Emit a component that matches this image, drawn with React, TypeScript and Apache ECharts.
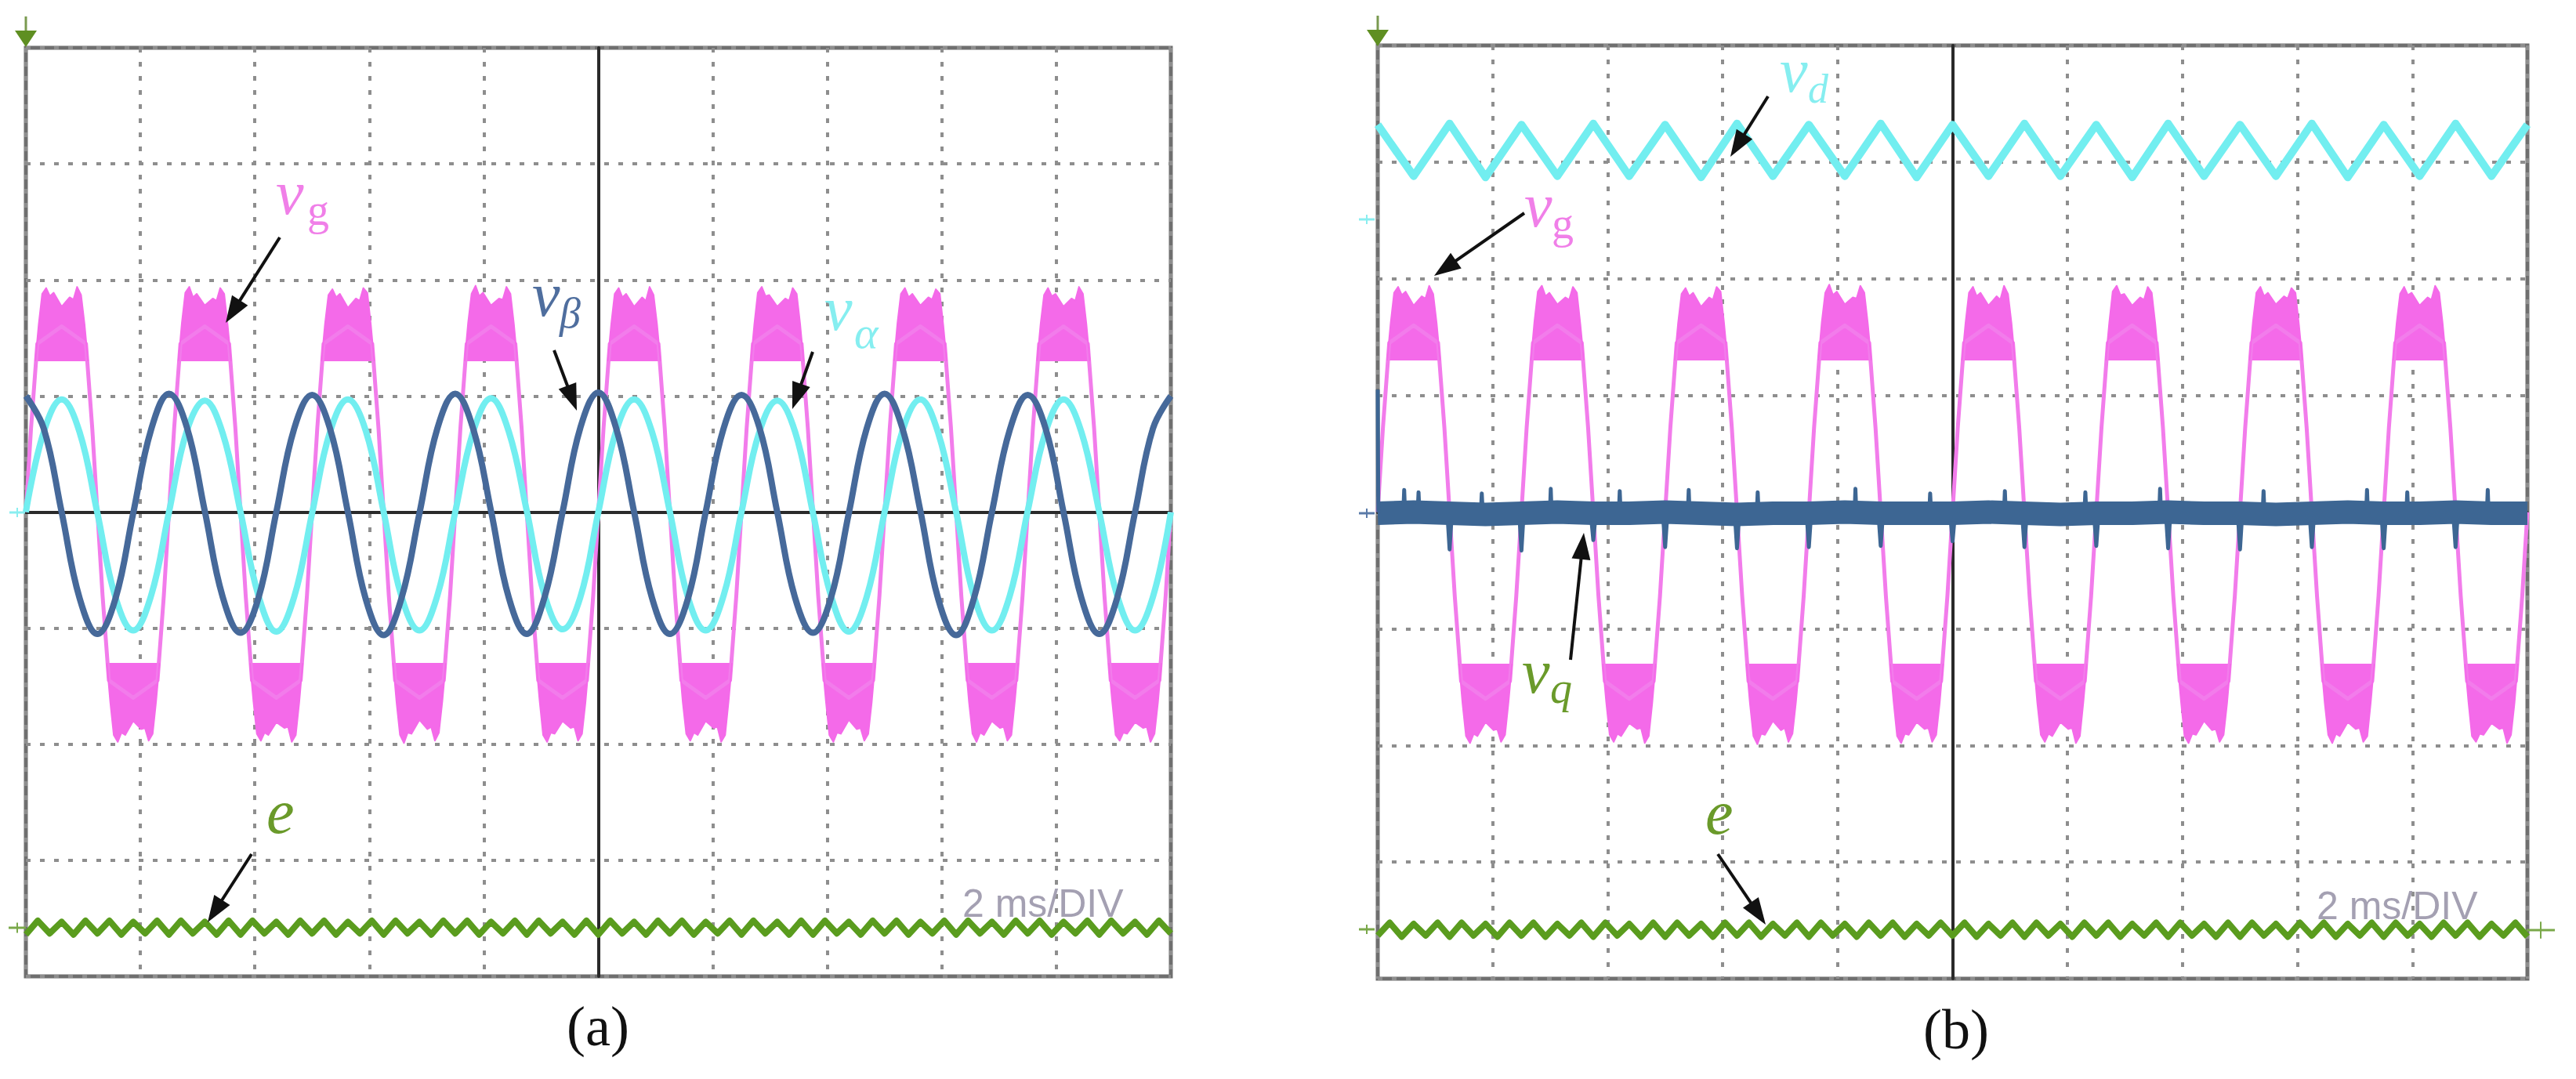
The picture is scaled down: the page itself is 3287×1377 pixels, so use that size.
import React, { useEffect, useRef } from "react";
import * as echarts from "echarts";

// ---- axes (time in ms, screen centre = 0; vertical in divisions) ----
const T_MIN = -10;
const T_MAX = 10;
const T_INTERVAL = 2; // 2 ms/DIV
const V_MIN = -4;
const V_MAX = 4;
const V_INTERVAL = 1;

// ---- panel (a) ----
const SINE_STEP = 0.3125; // ms between samples of the alpha/beta traces
const V_BETA = [
  1.0, 0.72, 0.0, -0.74, -1.05, -0.75, -0.01, 0.71,
  1.02, 0.73, 0.01, -0.73, -1.04, -0.74, 0.0, 0.72,
  1.01, 0.72, 0.0, -0.75, -1.06, -0.74, -0.01, 0.72,
  1.02, 0.72, 0.01, -0.74, -1.05, -0.73, 0.0, 0.73,
  1.03, 0.72, 0.0, -0.74, -1.05, -0.75, 0.0, 0.72,
  1.01, 0.73, 0.0, -0.74, -1.04, -0.74, -0.01, 0.72,
  1.02, 0.72, 0.01, -0.75, -1.06, -0.74, 0.0, 0.71,
  1.01, 0.72, 0.0, -0.74, -1.05, -0.74, 0.0, 0.72,
  1.0,
];
const V_ALPHA = [
  0.0, 0.69, 0.97, 0.69, -0.01, -0.73, -1.02, -0.72,
  0.0, 0.7, 0.96, 0.68, 0.0, -0.72, -1.03, -0.73,
  -0.01, 0.69, 0.97, 0.7, 0.0, -0.73, -1.02, -0.72,
  0.0, 0.69, 0.98, 0.69, 0.01, -0.72, -1.01, -0.73,
  0.0, 0.7, 0.97, 0.69, 0.0, -0.73, -1.02, -0.72,
  0.0, 0.69, 0.96, 0.69, -0.01, -0.72, -1.03, -0.73,
  0.0, 0.7, 0.97, 0.68, 0.0, -0.73, -1.02, -0.72,
  0.01, 0.69, 0.97, 0.69, 0.0, -0.72, -1.02, -0.73,
  0.0,
];

// grid voltage v_g: thin trace (ms, div)
const VG_TRACE: [number, number][] = [
  [-10, 0], [-9.91, 0.72], [-9.8, 1.45], [-9.375, 1.6], [-8.95, 1.45], [-8.84, 0.72],
  [-8.75, 0], [-8.66, -0.72], [-8.55, -1.45], [-8.125, -1.6], [-7.7, -1.45], [-7.59, -0.72],
  [-7.5, 0], [-7.41, 0.72], [-7.3, 1.45], [-6.875, 1.6], [-6.45, 1.45], [-6.34, 0.72],
  [-6.25, 0], [-6.16, -0.72], [-6.05, -1.45], [-5.625, -1.6], [-5.2, -1.45], [-5.09, -0.72],
  [-5, 0], [-4.91, 0.72], [-4.8, 1.45], [-4.375, 1.6], [-3.95, 1.45], [-3.84, 0.72],
  [-3.75, 0], [-3.66, -0.72], [-3.55, -1.45], [-3.125, -1.6], [-2.7, -1.45], [-2.59, -0.72],
  [-2.5, 0], [-2.41, 0.72], [-2.3, 1.45], [-1.875, 1.6], [-1.45, 1.45], [-1.34, 0.72],
  [-1.25, 0], [-1.16, -0.72], [-1.05, -1.45], [-0.625, -1.6], [-0.2, -1.45], [-0.09, -0.72],
  [0, 0], [0.09, 0.72], [0.2, 1.45], [0.625, 1.6], [1.05, 1.45], [1.16, 0.72],
  [1.25, 0], [1.34, -0.72], [1.45, -1.45], [1.875, -1.6], [2.3, -1.45], [2.41, -0.72],
  [2.5, 0], [2.59, 0.72], [2.7, 1.45], [3.125, 1.6], [3.55, 1.45], [3.66, 0.72],
  [3.75, 0], [3.84, -0.72], [3.95, -1.45], [4.375, -1.6], [4.8, -1.45], [4.91, -0.72],
  [5, 0], [5.09, 0.72], [5.2, 1.45], [5.625, 1.6], [6.05, 1.45], [6.16, 0.72],
  [6.25, 0], [6.34, -0.72], [6.45, -1.45], [6.875, -1.6], [7.3, -1.45], [7.41, -0.72],
  [7.5, 0], [7.59, 0.72], [7.7, 1.45], [8.125, 1.6], [8.55, 1.45], [8.66, 0.72],
  [8.75, 0], [8.84, -0.72], [8.95, -1.45], [9.375, -1.6], [9.8, -1.45], [9.91, -0.72],
  [10, 0],
];

// noisy plateaus of v_g (outer edge), filled towards PLATEAU_BASE
const PLATEAU_BASE = 1.3;
const VG_TOPS: [number, number | null][] = [
  [-9.835, 1.3], [-9.775, 1.62], [-9.715, 1.88], [-9.645, 1.93], [-9.58, 1.86], [-9.515, 1.89], [-9.375, 1.77], [-9.235, 1.85], [-9.17, 1.83], [-9.105, 1.94], [-9.035, 1.87], [-8.975, 1.62], [-8.915, 1.3], [-8.9, null],
  [-7.335, 1.3], [-7.275, 1.63], [-7.215, 1.89], [-7.145, 1.94], [-7.08, 1.85], [-7.015, 1.88], [-6.875, 1.78], [-6.735, 1.84], [-6.67, 1.82], [-6.605, 1.93], [-6.535, 1.88], [-6.475, 1.61], [-6.415, 1.3], [-6.4, null],
  [-4.835, 1.3], [-4.775, 1.62], [-4.715, 1.87], [-4.645, 1.92], [-4.58, 1.85], [-4.515, 1.88], [-4.375, 1.76], [-4.235, 1.84], [-4.17, 1.82], [-4.105, 1.93], [-4.035, 1.89], [-3.975, 1.62], [-3.915, 1.3], [-3.9, null],
  [-2.335, 1.3], [-2.275, 1.63], [-2.215, 1.88], [-2.145, 1.95], [-2.08, 1.86], [-2.015, 1.89], [-1.875, 1.78], [-1.735, 1.84], [-1.67, 1.83], [-1.605, 1.94], [-1.535, 1.88], [-1.475, 1.62], [-1.415, 1.3], [-1.4, null],
  [0.165, 1.3], [0.225, 1.62], [0.285, 1.88], [0.355, 1.93], [0.42, 1.85], [0.485, 1.88], [0.625, 1.77], [0.765, 1.85], [0.83, 1.82], [0.895, 1.94], [0.965, 1.87], [1.025, 1.62], [1.085, 1.3], [1.1, null],
  [2.665, 1.3], [2.725, 1.62], [2.785, 1.89], [2.855, 1.94], [2.92, 1.86], [2.985, 1.87], [3.125, 1.77], [3.265, 1.84], [3.33, 1.82], [3.395, 1.93], [3.465, 1.88], [3.525, 1.62], [3.585, 1.3], [3.6, null],
  [5.165, 1.3], [5.225, 1.63], [5.285, 1.88], [5.355, 1.93], [5.42, 1.85], [5.485, 1.88], [5.625, 1.78], [5.765, 1.85], [5.83, 1.83], [5.895, 1.92], [5.965, 1.88], [6.025, 1.61], [6.085, 1.3], [6.1, null],
  [7.665, 1.3], [7.725, 1.62], [7.785, 1.87], [7.855, 1.93], [7.92, 1.86], [7.985, 1.88], [8.125, 1.77], [8.265, 1.84], [8.33, 1.82], [8.395, 1.94], [8.465, 1.88], [8.525, 1.62], [8.585, 1.3],
];
const VG_BOTTOMS: [number, number | null][] = [
  [-8.585, -1.3], [-8.525, -1.64], [-8.465, -1.92], [-8.395, -1.98], [-8.33, -1.9], [-8.265, -1.92], [-8.125, -1.8], [-7.985, -1.87], [-7.92, -1.86], [-7.855, -1.97], [-7.785, -1.91], [-7.725, -1.63], [-7.665, -1.3], [-7.65, null],
  [-6.085, -1.3], [-6.025, -1.63], [-5.965, -1.91], [-5.895, -1.97], [-5.83, -1.9], [-5.765, -1.92], [-5.625, -1.81], [-5.485, -1.86], [-5.42, -1.85], [-5.355, -1.98], [-5.285, -1.92], [-5.225, -1.64], [-5.165, -1.3], [-5.15, null],
  [-3.585, -1.3], [-3.525, -1.64], [-3.465, -1.92], [-3.395, -1.99], [-3.33, -1.9], [-3.265, -1.91], [-3.125, -1.79], [-2.985, -1.87], [-2.92, -1.85], [-2.855, -1.97], [-2.785, -1.9], [-2.725, -1.63], [-2.665, -1.3], [-2.65, null],
  [-1.085, -1.3], [-1.025, -1.63], [-0.965, -1.92], [-0.895, -1.98], [-0.83, -1.9], [-0.765, -1.91], [-0.625, -1.8], [-0.485, -1.86], [-0.42, -1.85], [-0.355, -1.97], [-0.285, -1.91], [-0.225, -1.64], [-0.165, -1.3], [-0.15, null],
  [1.415, -1.3], [1.475, -1.64], [1.535, -1.91], [1.605, -1.97], [1.67, -1.9], [1.735, -1.92], [1.875, -1.8], [2.015, -1.86], [2.08, -1.85], [2.145, -1.98], [2.215, -1.92], [2.275, -1.63], [2.335, -1.3], [2.35, null],
  [3.915, -1.3], [3.975, -1.63], [4.035, -1.92], [4.105, -1.98], [4.17, -1.9], [4.235, -1.91], [4.375, -1.79], [4.515, -1.87], [4.58, -1.86], [4.645, -1.97], [4.715, -1.91], [4.775, -1.64], [4.835, -1.3], [4.85, null],
  [6.415, -1.3], [6.475, -1.64], [6.535, -1.91], [6.605, -1.98], [6.67, -1.9], [6.735, -1.92], [6.875, -1.8], [7.015, -1.86], [7.08, -1.85], [7.145, -1.97], [7.215, -1.92], [7.275, -1.63], [7.335, -1.3], [7.35, null],
  [8.915, -1.3], [8.975, -1.63], [9.035, -1.92], [9.105, -1.97], [9.17, -1.9], [9.235, -1.91], [9.375, -1.81], [9.515, -1.86], [9.58, -1.85], [9.645, -1.98], [9.715, -1.91], [9.775, -1.64], [9.835, -1.3],
];

// error signal e (ripple), uniformly sampled
const E_STEP = 20 / 96;
const E_A = [
  -3.64, -3.52, -3.63, -3.53, -3.64, -3.52, -3.63, -3.52, -3.64, -3.53, -3.63, -3.52,
  -3.64, -3.52, -3.63, -3.53, -3.64, -3.52, -3.64, -3.52, -3.63, -3.53, -3.64, -3.52,
  -3.63, -3.52, -3.64, -3.53, -3.63, -3.52, -3.64, -3.52, -3.63, -3.53, -3.64, -3.52,
  -3.63, -3.52, -3.64, -3.53, -3.63, -3.52, -3.64, -3.52, -3.63, -3.53, -3.64, -3.52,
  -3.64, -3.52, -3.63, -3.53, -3.64, -3.52, -3.63, -3.52, -3.64, -3.53, -3.63, -3.52,
  -3.64, -3.52, -3.63, -3.53, -3.64, -3.52, -3.64, -3.52, -3.63, -3.53, -3.64, -3.52,
  -3.63, -3.52, -3.64, -3.53, -3.63, -3.52, -3.64, -3.52, -3.63, -3.53, -3.64, -3.52,
  -3.63, -3.52, -3.64, -3.53, -3.63, -3.52, -3.64, -3.52, -3.63, -3.53, -3.64, -3.52,
  -3.63,
];

// ---- panel (b) ----
const VD_STEP = 0.625;
const V_D = [
  3.32, 2.88, 3.33, 2.87, 3.32, 2.88, 3.33, 2.88, 3.32, 2.87, 3.33, 2.88, 3.32, 2.88, 3.33, 2.87,
  3.32, 2.88, 3.33, 2.88, 3.32, 2.87, 3.33, 2.88, 3.32, 2.88, 3.33, 2.87, 3.32, 2.88, 3.33, 2.88,
  3.32,
];
const VQ_STEP = 0.625;
const V_Q = [
  -0.01, 0.0, -0.01, -0.02, -0.01, 0.0, -0.01, -0.01, 0.0, -0.01, -0.02, -0.01, -0.01, 0.0, -0.01, -0.01,
  -0.01, 0.0, -0.01, -0.02, -0.01, -0.01, 0.0, -0.01, -0.01, -0.02, -0.01, 0.0, -0.01, -0.01, 0.0, -0.01,
  -0.01,
];
const VQ_SPIKES: [number, number | null][] = [
  [-10, 1.05], [-9.99, 0.0], [-9.98, null],
  [-9.55, 0.06], [-9.54, 0.19], [-9.53, 0.06], [-9.52, null],
  [-9.3, 0.06], [-9.29, 0.17], [-9.28, 0.06], [-9.27, null],
  [-8.78, -0.08], [-8.75, -0.32], [-8.72, -0.08], [-8.71, null],
  [-8.2, 0.06], [-8.19, 0.16], [-8.18, 0.06], [-8.17, null],
  [-7.53, -0.08], [-7.5, -0.33], [-7.47, -0.08], [-7.46, null],
  [-7.0, 0.06], [-6.99, 0.2], [-6.98, 0.06], [-6.97, null],
  [-6.28, -0.08], [-6.25, -0.24], [-6.22, -0.08], [-6.21, null],
  [-5.8, 0.06], [-5.79, 0.18], [-5.78, 0.06], [-5.77, null],
  [-5.03, -0.08], [-5.0, -0.3], [-4.97, -0.08], [-4.96, null],
  [-4.6, 0.06], [-4.59, 0.19], [-4.58, 0.06], [-4.57, null],
  [-3.78, -0.08], [-3.75, -0.31], [-3.72, -0.08], [-3.71, null],
  [-3.4, 0.06], [-3.39, 0.17], [-3.38, 0.06], [-3.37, null],
  [-2.53, -0.08], [-2.5, -0.3], [-2.47, -0.08], [-2.46, null],
  [-1.7, 0.06], [-1.69, 0.2], [-1.68, 0.06], [-1.67, null],
  [-1.28, -0.08], [-1.25, -0.29], [-1.22, -0.08], [-1.21, null],
  [-0.4, 0.06], [-0.39, 0.16], [-0.38, 0.06], [-0.37, null],
  [-0.03, -0.08], [0.0, -0.25], [0.03, -0.08], [0.04, null],
  [0.9, 0.06], [0.91, 0.18], [0.92, 0.06], [0.93, null],
  [1.22, -0.08], [1.25, -0.3], [1.28, -0.08], [1.29, null],
  [2.3, 0.06], [2.31, 0.17], [2.32, 0.06], [2.33, null],
  [2.47, -0.08], [2.5, -0.29], [2.53, -0.08], [2.54, null],
  [3.6, 0.06], [3.61, 0.2], [3.62, 0.06], [3.63, null],
  [3.72, -0.08], [3.75, -0.31], [3.78, -0.08], [3.79, null],
  [4.97, -0.08], [5.0, -0.32], [5.03, -0.08], [5.04, null],
  [5.4, 0.06], [5.41, 0.18], [5.42, 0.06], [5.43, null],
  [6.22, -0.08], [6.25, -0.3], [6.28, -0.08], [6.29, null],
  [7.2, 0.06], [7.21, 0.19], [7.22, 0.06], [7.23, null],
  [7.47, -0.08], [7.5, -0.31], [7.53, -0.08], [7.54, null],
  [7.9, 0.06], [7.91, 0.17], [7.92, 0.06], [7.93, null],
  [8.72, -0.08], [8.75, -0.3], [8.78, -0.08], [8.79, null],
  [9.3, 0.06], [9.31, 0.19], [9.32, 0.06], [9.33, null],
];
const E_B = [
  -3.63, -3.52, -3.64, -3.53, -3.63, -3.52, -3.64, -3.52, -3.63, -3.53, -3.64, -3.52,
  -3.63, -3.52, -3.64, -3.53, -3.63, -3.52, -3.64, -3.52, -3.63, -3.53, -3.64, -3.52,
  -3.64, -3.52, -3.63, -3.53, -3.64, -3.52, -3.63, -3.52, -3.64, -3.53, -3.63, -3.52,
  -3.64, -3.52, -3.63, -3.53, -3.64, -3.52, -3.63, -3.52, -3.64, -3.53, -3.63, -3.52,
  -3.63, -3.52, -3.64, -3.53, -3.63, -3.52, -3.64, -3.52, -3.63, -3.53, -3.64, -3.52,
  -3.63, -3.52, -3.64, -3.53, -3.63, -3.52, -3.64, -3.52, -3.63, -3.53, -3.64, -3.52,
  -3.64, -3.52, -3.63, -3.53, -3.64, -3.52, -3.63, -3.52, -3.64, -3.53, -3.63, -3.52,
  -3.64, -3.52, -3.63, -3.53, -3.64, -3.52, -3.63, -3.52, -3.64, -3.53, -3.63, -3.52,
  -3.64,
];

// ---- styling ----
const PINK = "#F27CEB";
const PINK_DARK = "#F46AE9";
const CYAN = "#72EEF0";
const BLUE = "#46699A";
const VQ_BLUE = "#3D6693";
const GREEN = "#5A9C1E";
const GRID_LINE = "#8e8e8e";

const GRIDS = [
  { left: 33, top: 61, width: 1461, height: 1185 },
  { left: 1758, top: 58, width: 1467, height: 1191 },
];

const uniform = (vals: number[], step: number) => vals.map((v, i) => [T_MIN + i * step, v]);

function arrow(x1: number, y1: number, x2: number, y2: number) {
  const dx = x2 - x1;
  const dy = y2 - y1;
  const len = Math.hypot(dx, dy);
  const ux = dx / len;
  const uy = dy / len;
  const hl = 34;
  const hw = 12;
  const bx = x2 - ux * hl;
  const by = y2 - uy * hl;
  return [
    { type: "line", z: 100, shape: { x1, y1, x2: bx + ux * 4, y2: by + uy * 4 }, style: { stroke: "#111", lineWidth: 4 } },
    {
      type: "polygon",
      z: 100,
      shape: { points: [[x2, y2], [bx - uy * hw, by + ux * hw], [bx + uy * hw, by - ux * hw]] },
      style: { fill: "#111" },
    },
  ];
}

function label(x: number, y: number, text: string, color: string, size: number, italic: boolean) {
  return {
    type: "text",
    z: 100,
    x,
    y,
    style: {
      text,
      fill: color,
      font: `${italic ? "italic " : ""}${size}px "Liberation Serif", "DejaVu Serif", serif`,
      align: "left",
      verticalAlign: "middle",
    },
  };
}

function cross(x: number, y: number, w: number, color: string) {
  return [
    { type: "line", z: 100, shape: { x1: x - w, y1: y, x2: x + w, y2: y }, style: { stroke: color, lineWidth: 3 } },
    { type: "line", z: 100, shape: { x1: x, y1: y - w * 0.6, x2: x, y2: y + w * 0.6 }, style: { stroke: color, lineWidth: 2 } },
  ];
}

function trigger(x: number, y: number) {
  return [
    { type: "line", z: 100, shape: { x1: x, y1: y - 24, x2: x, y2: y }, style: { stroke: "#7a9a50", lineWidth: 3 } },
    { type: "polygon", z: 100, shape: { points: [[x - 14, y - 6], [x + 14, y - 6], [x, y + 15]] }, style: { fill: "#5f8f22" } },
  ];
}

function axesFor(i: number) {
  const common = {
    type: "value",
    gridIndex: i,
    axisLabel: { show: false },
    axisTick: { show: false },
    axisLine: { show: true, onZero: true, lineStyle: { color: "#2a2a2a", width: 4 } },
    splitLine: { show: true, lineStyle: { color: GRID_LINE, width: 4, type: [6, 12] } },
  };
  return {
    x: { ...common, min: T_MIN, max: T_MAX, interval: T_INTERVAL },
    y: { ...common, min: V_MIN, max: V_MAX, interval: V_INTERVAL },
  };
}

function lineSeries(name: string, idx: number, data: any[], color: string, width: number, z: number, extra: any = {}) {
  return {
    name,
    type: "line",
    xAxisIndex: idx,
    yAxisIndex: idx,
    data,
    symbol: "none",
    silent: true,
    z,
    lineStyle: { color, width, join: "round" },
    itemStyle: { color },
    ...extra,
  };
}

export default function App() {
  const ref = useRef<HTMLDivElement>(null);
  useEffect(() => {
    if (!ref.current) return;
    const chart = echarts.init(ref.current, undefined, { renderer: "svg" });
    const a = axesFor(0);
    const b = axesFor(1);

    const series = [
      // (a)
      lineSeries("v_g (a)", 0, VG_TRACE, PINK, 5, 2),
      lineSeries("v_g plateau top (a)", 0, VG_TOPS, PINK_DARK, 2, 2, {
        areaStyle: { color: PINK_DARK, opacity: 1, origin: PLATEAU_BASE },
      }),
      lineSeries("v_g plateau bottom (a)", 0, VG_BOTTOMS, PINK_DARK, 2, 2, {
        areaStyle: { color: PINK_DARK, opacity: 1, origin: -PLATEAU_BASE },
      }),
      lineSeries("v_alpha", 0, uniform(V_ALPHA, SINE_STEP), CYAN, 8, 3, { smooth: 0.4 }),
      lineSeries("v_beta", 0, uniform(V_BETA, SINE_STEP), BLUE, 8, 4, { smooth: 0.4 }),
      lineSeries("e (a)", 0, uniform(E_A, E_STEP), GREEN, 8, 3),
      // (b)
      lineSeries("v_g (b)", 1, VG_TRACE, PINK, 5, 2),
      lineSeries("v_g plateau top (b)", 1, VG_TOPS, PINK_DARK, 2, 2, {
        areaStyle: { color: PINK_DARK, opacity: 1, origin: PLATEAU_BASE },
      }),
      lineSeries("v_g plateau bottom (b)", 1, VG_BOTTOMS, PINK_DARK, 2, 2, {
        areaStyle: { color: PINK_DARK, opacity: 1, origin: -PLATEAU_BASE },
      }),
      lineSeries("v_d", 1, uniform(V_D, VD_STEP), CYAN, 10, 3),
      lineSeries("v_q", 1, uniform(V_Q, VQ_STEP), VQ_BLUE, 30, 4),
      lineSeries("v_q spikes", 1, VQ_SPIKES, VQ_BLUE, 5, 4),
      lineSeries("e (b)", 1, uniform(E_B, E_STEP), GREEN, 8, 3),
    ];

    const textDiv = (x: number, y: number) => ({
      type: "text", z: 100, x, y,
      style: { text: "2 ms/DIV", fill: "#a4a0b2", font: '50px "Liberation Sans", Arial, sans-serif', align: "left", verticalAlign: "middle" },
    });

    const graphic: any[] = [
      // panel (a) labels
      label(352, 246, "v", "#F07FE8", 80, true),
      label(392, 268, "g", "#F07FE8", 56, false),
      ...arrow(357, 303, 288, 412),
      label(679, 376, "v", "#4F6E9E", 80, true),
      label(714, 400, "β", "#4F6E9E", 54, true),
      ...arrow(707, 447, 736, 524),
      label(1052, 394, "v", "#86EEF0", 80, true),
      label(1090, 424, "α", "#86EEF0", 58, true),
      ...arrow(1037, 449, 1011, 522),
      label(340, 1036, "e", "#6A9A2A", 80, true),
      ...arrow(321, 1090, 265, 1177),
      textDiv(1228, 1153),
      // panel (b) labels
      label(2271, 90, "v", "#86EEF0", 80, true),
      label(2307, 113, "d", "#86EEF0", 52, true),
      ...arrow(2256, 123, 2208, 200),
      label(1945, 262, "v", "#F07FE8", 80, true),
      label(1980, 285, "g", "#F07FE8", 56, false),
      ...arrow(1945, 272, 1830, 352),
      label(1942, 857, "v", "#6A9A2A", 80, true),
      label(1978, 878, "q", "#6A9A2A", 56, true),
      ...arrow(2004, 842, 2021, 680),
      label(2176, 1037, "e", "#6A9A2A", 80, true),
      ...arrow(2192, 1090, 2253, 1180),
      textDiv(2956, 1156),
      // captions
      {
        type: "text", z: 100, x: 763, y: 1310,
        style: { text: "(a)", fill: "#111", font: '72px "Liberation Serif", serif', align: "center", verticalAlign: "middle" },
      },
      {
        type: "text", z: 100, x: 2496, y: 1314,
        style: { text: "(b)", fill: "#111", font: '72px "Liberation Serif", serif', align: "center", verticalAlign: "middle" },
      },
      // channel / trigger markers
      ...trigger(33, 45),
      ...trigger(1758, 44),
      ...cross(22, 1184, 11, "#7aa84a"),
      ...cross(1744, 1186, 10, "#7aa84a"),
      ...cross(3242, 1187, 18, "#7aa84a"),
      ...cross(22, 654, 10, "#8aeef0"),
      ...cross(1744, 280, 10, "#8aeef0"),
      ...cross(1744, 655, 10, "#5a7aa8"),
    ];

    chart.setOption({
      animation: false,
      backgroundColor: "#ffffff",
      grid: GRIDS.map((g) => ({ ...g, show: true, borderColor: "#6f6f6f", borderWidth: 5, backgroundColor: "transparent" })),
      xAxis: [a.x, b.x],
      yAxis: [a.y, b.y],
      series,
      graphic,
    });
    return () => chart.dispose();
  }, []);
  return <div ref={ref} style={{ position: "absolute", left: 0, top: 0, width: 3287, height: 1377 }} />;
}
